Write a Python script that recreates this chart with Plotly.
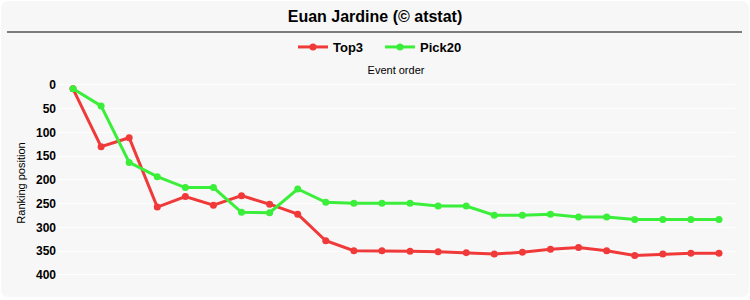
import plotly.graph_objects as go

events = list(range(1, 25))
top3 = [8, 130, 111, 257, 235, 253, 233, 251, 272, 328, 349, 349, 350, 351, 353, 356, 352, 346, 342, 349, 359, 356, 354, 354]
pick20 = [8, 44, 163, 193, 216, 216, 268, 269, 219, 247, 249, 249, 249, 255, 255, 274, 274, 272, 278, 278, 283, 283, 283, 283]
y_ticks = [0, 50, 100, 150, 200, 250, 300, 350, 400]

W, H = 750, 300
L, R, T, B = 57, 735, 78, 288
pw, ph = R - L, B - T

def px(x):
    return (x - L) / pw

def py(y):
    return 1 + (T - y) / ph

RED = "rgb(240,58,58)"
GREEN = "rgb(58,238,58)"

fig = go.Figure()
fig.add_trace(go.Scatter(x=events, y=top3, name="<b>Top3</b>", mode="lines+markers",
                         line=dict(color=RED, width=3), marker=dict(size=7, color=RED)))
fig.add_trace(go.Scatter(x=events, y=pick20, name="<b>Pick20</b>", mode="lines+markers",
                         line=dict(color=GREEN, width=3), marker=dict(size=7, color=GREEN)))

r = 8
x0, x1 = px(1), px(749)
y0, y1 = py(1), py(297)
rx = r / pw
ry = r / ph
path = (f"M {x0+rx},{y0} L {x1-rx},{y0} Q {x1},{y0} {x1},{y0-ry} "
        f"L {x1},{y1+ry} Q {x1},{y1} {x1-rx},{y1} L {x0+rx},{y1} Q {x0},{y1} {x0},{y1+ry} "
        f"L {x0},{y0-ry} Q {x0},{y0} {x0+rx},{y0} Z")

fig.update_layout(
    width=W, height=H,
    margin=dict(l=L, r=W - R, t=T, b=H - B),
    paper_bgcolor="white",
    plot_bgcolor="rgba(0,0,0,0)",
    font=dict(family="Liberation Sans, Arial, sans-serif", color="black"),
    title=dict(text="<b>Euan Jardine (© atstat)</b>", x=0.5, xanchor="center",
               y=1 - 16 / H, yanchor="middle", font=dict(size=16, color="black")),
    showlegend=True,
    legend=dict(orientation="h", x=px(380), xanchor="center", y=py(47), yanchor="middle",
                font=dict(size=13, color="black"), itemwidth=30,
                entrywidth=42, entrywidthmode="pixels",
                bgcolor="rgba(0,0,0,0)", traceorder="normal"),
    shapes=[
        dict(type="path", xref="paper", yref="paper", path=path,
             fillcolor="#f7f7f7", line=dict(width=0), layer="below"),
        dict(type="line", xref="paper", yref="paper", x0=px(7), x1=px(742),
             y0=py(32), y1=py(32), line=dict(color="black", width=1)),
    ],
    xaxis=dict(side="top", showticklabels=False, showgrid=False, zeroline=False,
               showline=False, ticks="", range=[0.43, 24.57],
               title=dict(text="Event order", font=dict(size=11), standoff=0)),
    yaxis=dict(autorange=False, range=[427.4, -14.7], tickvals=y_ticks,
               ticktext=[f"<b>{v}</b>" for v in y_ticks],
               tickfont=dict(size=12, color="black"), gridcolor="white", gridwidth=1,
               zeroline=False, showline=False, ticks="",
               title=dict(text="Ranking position", font=dict(size=11), standoff=8)),
)

fig.write_html("out.html")
